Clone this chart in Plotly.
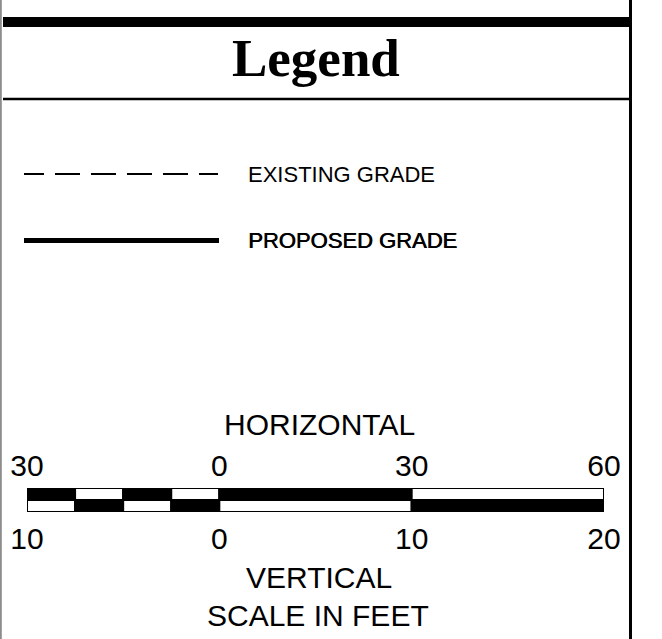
import plotly.graph_objects as go

W, H = 662, 639

# ---- data ----
horiz_tick_vals = [-30, 0, 30, 60]
horiz_tick_text = ["30", "0", "30", "60"]
vert_tick_vals = [-10, 0, 10, 20]
vert_tick_text = ["10", "0", "10", "20"]
segment_bounds = [-30, -22.5, -15, -7.5, 0, 30, 60]   # feet, horizontal scale
top_row_colors = ["black", "white", "black", "white", "black", "white"]
bottom_row_colors = ["white", "black", "white", "black", "white", "black"]
legend_labels = ["EXISTING GRADE", "PROPOSED GRADE"]
title_text = "Legend"


def px(x):
    return x / W


def py(y):
    return 1 - y / H


starts = segment_bounds[:-1]
widths = [b - a for a, b in zip(segment_bounds[:-1], segment_bounds[1:])]

fig = go.Figure()
fig.add_trace(go.Bar(orientation="h", y=[1.5] * len(widths), x=widths, base=starts,
                     width=1, marker=dict(color=top_row_colors, line=dict(color="black", width=2)),
                     xaxis="x2", yaxis="y2", hoverinfo="skip", showlegend=False))
fig.add_trace(go.Bar(orientation="h", y=[0.5] * len(widths), x=widths, base=starts,
                     width=1, marker=dict(color=bottom_row_colors, line=dict(color="black", width=2)),
                     xaxis="x2", yaxis="y2", hoverinfo="skip", showlegend=False))
# invisible trace so the vertical-scale axis is drawn
fig.add_trace(go.Scatter(x=vert_tick_vals, y=[1] * 4, mode="markers", marker=dict(opacity=0),
                         xaxis="x3", yaxis="y2", hoverinfo="skip", showlegend=False))

sans = "Liberation Sans, Arial, sans-serif"
tickfont = dict(family=sans, size=30, color="black")

fig.update_layout(
    template="none",
    width=W, height=H, margin=dict(l=0, r=0, t=0, b=0, pad=0, autoexpand=False),
    paper_bgcolor="white", plot_bgcolor="rgba(0,0,0,0)",
    barmode="overlay", showlegend=False,
    xaxis=dict(visible=False), yaxis=dict(visible=False),
    xaxis2=dict(domain=[px(27), px(604)], range=[-30, 60], anchor="y2", side="top",
                tickvals=horiz_tick_vals, ticktext=horiz_tick_text, ticks="",
                showgrid=False, zeroline=False, showline=False, tickfont=tickfont,
                ticklabelstandoff=5, automargin=False, fixedrange=True),
    xaxis3=dict(domain=[px(27), px(604)], range=[-10, 20], anchor="y2", side="bottom",
                overlaying="x2", tickvals=vert_tick_vals, ticktext=vert_tick_text, ticks="",
                showgrid=False, zeroline=False, showline=False, tickfont=tickfont,
                ticklabelstandoff=6, automargin=False, fixedrange=True),
    yaxis2=dict(domain=[py(512), py(488)], range=[0, 2], visible=False, fixedrange=True),
)

shapes = [
    # left grey border
    dict(type="line", xref="paper", yref="paper", x0=px(0.8), x1=px(0.8), y0=0, y1=1,
         line=dict(color="#8c8c8c", width=2)),
    # right border
    dict(type="line", xref="paper", yref="paper", x0=px(630.5), x1=px(630.5), y0=0, y1=1,
         line=dict(color="black", width=3)),
    # thick top bar
    dict(type="line", xref="paper", yref="paper", x0=px(3), x1=px(630), y0=py(22), y1=py(22),
         line=dict(color="black", width=10)),
    # thin line under title
    dict(type="line", xref="paper", yref="paper", x0=px(3), x1=px(630), y0=py(99), y1=py(99),
         line=dict(color="black", width=2.5)),
    # existing grade sample (dashed)
    dict(type="line", xref="paper", yref="paper", x0=px(24), x1=px(218), y0=py(174), y1=py(174),
         line=dict(color="black", width=2, dash="20px,11px,25px,11px,25px,11px,25px,11px,25px,11px,19px")),
    # proposed grade sample (solid, heavy)
    dict(type="line", xref="paper", yref="paper", x0=px(24), x1=px(219), y0=py(240.5), y1=py(240.5),
         line=dict(color="black", width=5)),
]
fig.update_layout(shapes=shapes)

annotations = [
    dict(text="<b>%s</b>" % title_text, x=px(316), y=py(58), xref="paper", yref="paper",
         showarrow=False, xanchor="center", yanchor="middle",
         font=dict(family="Liberation Serif, Times New Roman, serif", size=53, color="black")),
    dict(text=legend_labels[0], x=px(246), y=py(175), xref="paper", yref="paper",
         showarrow=False, xanchor="left", yanchor="middle",
         font=dict(family=sans, size=22, color="black")),
    dict(text=legend_labels[1], x=px(246), y=py(240), xref="paper", yref="paper",
         showarrow=False, xanchor="left", yanchor="middle",
         font=dict(family=sans, size=22, color="black", shadow="0.7px 0px 0px black")),
    dict(text="HORIZONTAL", x=px(319), y=py(424), xref="paper", yref="paper",
         showarrow=False, xanchor="center", yanchor="middle", font=tickfont),
    dict(text="VERTICAL", x=px(319), y=py(577), xref="paper", yref="paper",
         showarrow=False, xanchor="center", yanchor="middle", font=tickfont),
    dict(text="SCALE IN FEET", x=px(318), y=py(615), xref="paper", yref="paper",
         showarrow=False, xanchor="center", yanchor="middle", font=tickfont),
]
fig.update_layout(annotations=annotations)

fig.write_html("out.html", config=dict(displayModeBar=False, staticPlot=True),
               post_script="document.body.style.margin='0';document.body.style.overflow='hidden';")
